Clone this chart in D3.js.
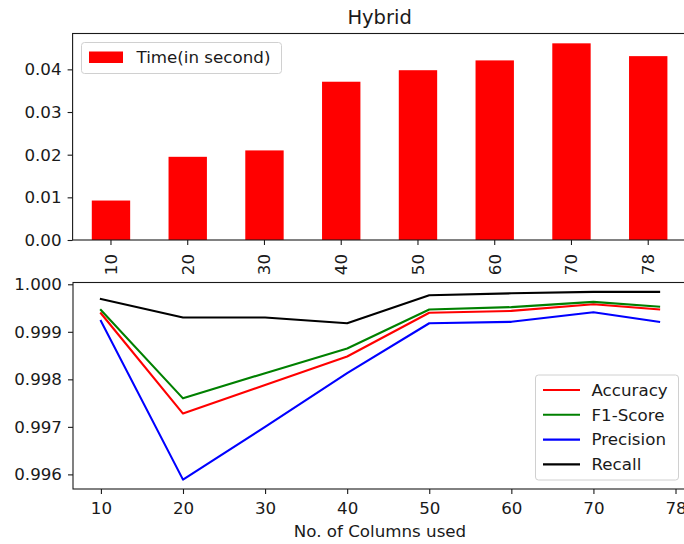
<!DOCTYPE html>
<html>
<head>
<meta charset="utf-8">
<script src="https://cdn.jsdelivr.net/npm/d3@7"></script>
<style>
  html, body { margin: 0; padding: 0; background: #fff; }
  svg { display: block; font-family: "DejaVu Sans", sans-serif; }
</style>
</head>
<body>
<svg id="chart" width="684" height="544"></svg>
<script>
// Column counts used for each run
const columns = ["10", "20", "30", "40", "50", "60", "70", "78"];
const columnNums = [10, 20, 30, 40, 50, 60, 70, 78];

// Training time (seconds) per column count
const timeSeconds = [0.00925, 0.0195, 0.0210, 0.0371, 0.0398, 0.0421, 0.0461, 0.0431];

// Metric series
const accuracy  = [0.99939, 0.99728, 0.99788, 0.99848, 0.99940, 0.99944, 0.99958, 0.99947];
const f1Score   = [0.99946, 0.99760, 0.99813, 0.99865, 0.99947, 0.99952, 0.99963, 0.99953];
const precision = [0.99923, 0.99589, 0.99700, 0.99813, 0.99918, 0.99921, 0.99941, 0.99921];
const recall    = [0.99969, 0.99930, 0.99930, 0.99918, 0.99977, 0.99981, 0.99984, 0.99984];

// Tick values / labels
const timeTicks = [0.00, 0.01, 0.02, 0.03, 0.04];
const metricTicks = [0.996, 0.997, 0.998, 0.999, 1.000];
const bottomXTicks = [10, 20, 30, 40, 50, 60, 70, 80];
const bottomXLabels = ["10", "20", "30", "40", "50", "60", "70", "78"];

const series = [
  { name: "Accuracy",  values: accuracy,  color: "#ff0000" },
  { name: "F1-Score",  values: f1Score,   color: "#008000" },
  { name: "Precision", values: precision, color: "#0000ff" },
  { name: "Recall",    values: recall,    color: "#000000" }
];

const svg = d3.select("#chart");
const FS = 16.7;       // 12pt text
const TITLE_FS = 19.5; // 14pt title
const ink = "#1a1a1a";

svg.append("rect").attr("width", 684).attr("height", 544).attr("fill", "#fff");

function styleAxis(g) {
  g.selectAll(".domain").remove();
  g.selectAll(".tick line").attr("stroke", ink).attr("stroke-width", 1.1);
  g.selectAll(".tick text").attr("fill", ink).attr("font-size", FS)
    .attr("font-family", "DejaVu Sans, sans-serif");
}

// ---------- Top panel: time bars ----------
const topBox = { left: 72.6, right: 686.6, top: 33.5, bottom: 240 };

const xBand = d3.scaleBand()
  .domain(columns)
  .range([topBox.left, topBox.right])
  .paddingInner(0.5)
  .paddingOuter(0.25);

const yTime = d3.scaleLinear()
  .domain([0, d3.max(timeSeconds) * 1.05])
  .range([topBox.bottom, topBox.top]);

const gTop = svg.append("g");

gTop.selectAll("rect.bar")
  .data(timeSeconds)
  .join("rect")
  .attr("class", "bar")
  .attr("x", (d, i) => xBand(columns[i]))
  .attr("width", xBand.bandwidth())
  .attr("y", d => yTime(d))
  .attr("height", d => yTime(0) - yTime(d))
  .attr("fill", "#ff0000");

// frame
gTop.append("rect")
  .attr("x", topBox.left).attr("y", topBox.top)
  .attr("width", topBox.right - topBox.left).attr("height", topBox.bottom - topBox.top)
  .attr("fill", "none").attr("stroke", ink).attr("stroke-width", 1.1);

// y axis
const yTopAxis = gTop.append("g")
  .attr("transform", `translate(${topBox.left},0)`)
  .call(d3.axisLeft(yTime).tickValues(timeTicks).tickFormat(d3.format(".2f"))
    .tickSize(5).tickPadding(6));
styleAxis(yTopAxis);

// x axis with rotated labels
const xTopAxis = gTop.append("g")
  .attr("transform", `translate(0,${topBox.bottom})`)
  .call(d3.axisBottom(xBand).tickSize(5).tickPadding(4.5));
styleAxis(xTopAxis);
xTopAxis.selectAll(".tick text")
  .attr("transform", "rotate(-90)")
  .attr("x", -14).attr("y", 0).attr("dy", "0.35em")
  .attr("text-anchor", "end");

// title
svg.append("text")
  .attr("x", (topBox.left + topBox.right) / 2).attr("y", 24)
  .attr("text-anchor", "middle")
  .attr("font-size", TITLE_FS).attr("fill", ink)
  .text("Hybrid");

// legend (top)
const legTop = gTop.append("g");
legTop.append("rect")
  .attr("x", 81.5).attr("y", 42.5).attr("width", 200).attr("height", 31)
  .attr("rx", 3).attr("fill", "#fff").attr("fill-opacity", 0.8)
  .attr("stroke", "#d0d0d0").attr("stroke-width", 1);
legTop.append("rect")
  .attr("x", 89).attr("y", 51.5).attr("width", 34).attr("height", 11.5)
  .attr("fill", "#ff0000");
legTop.append("text")
  .attr("x", 136.5).attr("y", 57.5).attr("dy", "0.35em")
  .attr("font-size", FS).attr("fill", ink)
  .text("Time(in second)");

// ---------- Bottom panel: metric lines ----------
const bot = { left: 73, right: 687, top: 282.5, bottom: 489 };

const allMetrics = series.flatMap(s => s.values);
const mMin = d3.min(allMetrics), mMax = d3.max(allMetrics);
const mPad = (mMax - mMin) * 0.05;
const xPad = (d3.max(columnNums) - d3.min(columnNums)) * 0.05;

const xLin = d3.scaleLinear()
  .domain([d3.min(columnNums) - xPad, d3.max(columnNums) + xPad])
  .range([bot.left, bot.right]);

const yMet = d3.scaleLinear()
  .domain([mMin - mPad, mMax + mPad])
  .range([bot.bottom, bot.top]);

const gBot = svg.append("g");

// panel background covers anything spilling from above
gBot.append("rect")
  .attr("x", bot.left).attr("y", bot.top)
  .attr("width", bot.right - bot.left).attr("height", bot.bottom - bot.top)
  .attr("fill", "#fff");

const line = d3.line()
  .x((d, i) => xLin(columnNums[i]))
  .y(d => yMet(d));

gBot.selectAll("path.metric")
  .data(series)
  .join("path")
  .attr("class", "metric")
  .attr("d", s => line(s.values))
  .attr("fill", "none")
  .attr("stroke", s => s.color)
  .attr("stroke-width", 2.1)
  .attr("stroke-linejoin", "round")
  .attr("stroke-linecap", "square");

gBot.append("rect")
  .attr("x", bot.left).attr("y", bot.top)
  .attr("width", bot.right - bot.left).attr("height", bot.bottom - bot.top)
  .attr("fill", "none").attr("stroke", ink).attr("stroke-width", 1.1);

const yBotAxis = gBot.append("g")
  .attr("transform", `translate(${bot.left},0)`)
  .call(d3.axisLeft(yMet).tickValues(metricTicks).tickFormat(d3.format(".3f"))
    .tickSize(5).tickPadding(6));
styleAxis(yBotAxis);

const xBotAxis = gBot.append("g")
  .attr("transform", `translate(0,${bot.bottom})`)
  .call(d3.axisBottom(xLin).tickValues(bottomXTicks)
    .tickFormat((d, i) => bottomXLabels[i]).tickSize(5).tickPadding(8.5));
styleAxis(xBotAxis);

svg.append("text")
  .attr("x", (bot.left + bot.right) / 2).attr("y", 536.5)
  .attr("text-anchor", "middle").attr("font-size", FS).attr("fill", ink)
  .text("No. of Columns used");

// legend (bottom)
const legBot = gBot.append("g");
legBot.append("rect")
  .attr("x", 535.5).attr("y", 375).attr("width", 143).attr("height", 105)
  .attr("rx", 3).attr("fill", "#fff").attr("fill-opacity", 0.8)
  .attr("stroke", "#d0d0d0").attr("stroke-width", 1);
series.forEach((s, i) => {
  const yy = 390 + i * 24.8;
  legBot.append("line")
    .attr("x1", 543).attr("x2", 580).attr("y1", yy).attr("y2", yy)
    .attr("stroke", s.color).attr("stroke-width", 2.1);
  legBot.append("text")
    .attr("x", 591.5).attr("y", yy).attr("dy", "0.35em")
    .attr("font-size", FS).attr("fill", ink)
    .text(s.name);
});
</script>
</body>
</html>
